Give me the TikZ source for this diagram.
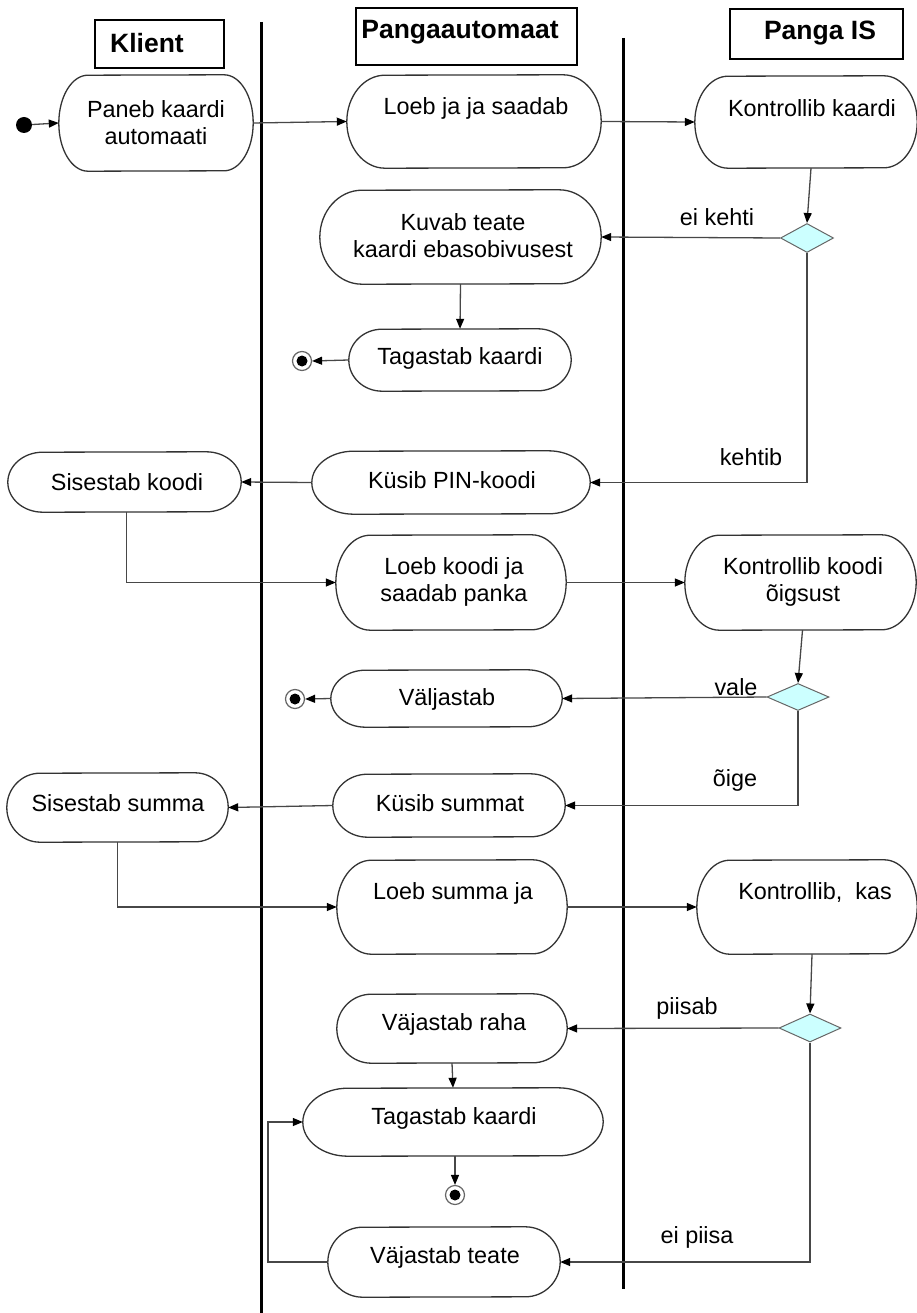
\documentclass[tikz,border=0pt]{standalone}
\usepackage{fontspec}
\setmainfont{Liberation Sans}
\usetikzlibrary{arrows.meta,shapes.geometric,calc}

\definecolor{decfill}{HTML}{CCFFFF}

\tikzset{
  lane/.style={line width=3pt, black},
  hdrbox/.style={rectangle, draw=black, line width=1.3pt, inner sep=0pt},
  hdrtext/.style={font=\fontsize{26.5}{30}\selectfont\bfseries, inner sep=0pt},
  actshape/.style={rectangle, draw=none, inner sep=0pt},
  actborder/.style={draw=black!80, line width=1.3pt},
  acttext/.style={font=\fontsize{23.4}{27}\selectfont, align=center, inner sep=0pt},
  lbl/.style={font=\fontsize{23.4}{27}\selectfont, inner sep=0pt},
  decision/.style={diamond, draw=black!60, fill=decfill, line width=1pt, inner sep=0pt},
  flow/.style={draw=black!72, line width=1.3pt, -{Triangle[length=10pt,width=8pt,color=black]}},
  initial/.style={circle, fill=black, minimum size=16pt, inner sep=0pt},
  final/.style={circle, draw=black!60, line width=1.2pt, minimum size=19pt, inner sep=0pt,
    path picture={\fill[black] (path picture bounding box.center) circle (5.5pt);}},
}

% activity: name, centre x, centre y, width, height, text x, text y, text
\newcommand\actnode[8]{%
  \pgfmathsetmacro\actrx{0.15*#4}%
  \pgfmathsetmacro\actry{#5/2}%
  \node[actshape, minimum width=#4pt, minimum height=#5pt] (#1) at (#2,#3) {};
  \draw[actborder] ($(#1.north east)+(-\actrx pt,0pt)$)
      arc[start angle=90, end angle=-90, x radius=\actrx pt, y radius=\actry pt]
      -- ($(#1.south west)+(\actrx pt,0pt)$)
      arc[start angle=270, end angle=90, x radius=\actrx pt, y radius=\actry pt]
      -- cycle;
  \node[acttext] (#1-txt) at (#6,#7) {#8};
}

\begin{document}
\begin{tikzpicture}[x=1pt, y=-1pt]
\useasboundingbox (0,0) rectangle (917,1313);

% swimlane separators
\coordinate (l1top) at (261,22);
\coordinate (l1bot) at (261,1313);
\coordinate (l2top) at (623,38);
\coordinate (l2bot) at (623,1289);
\draw[lane] (l1top) -- (l1bot);
\draw[lane] (l2top) -- (l2bot);

% lane headers
\node[hdrbox, minimum width=129pt, minimum height=48pt] (hk) at (159.5,44) {};
\node[hdrtext] (hk-txt) at (147,43) {Klient};
\node[hdrbox, minimum width=221pt, minimum height=57pt] (hp) at (466.5,36.5) {};
\node[hdrtext] (hp-txt) at (460,32) {Pangaautomaat};
\node[hdrbox, minimum width=173pt, minimum height=50pt] (hi) at (816.5,34) {};
\node[hdrtext] (hi-txt) at (820,33) {Panga IS};

% start
\node[initial] (start) at (24,125) {};

% activities
\actnode{paneb}{156}{123}{194}{96}{156}{122.5}{Paneb kaardi\\automaati}
\actnode{loeb1}{474}{121.5}{254}{93}{476}{108}{Loeb ja ja saadab}
\actnode{kontr1}{806}{122}{222}{92}{812}{108}{Kontrollib kaardi}
\actnode{kuvab}{460.5}{237}{281}{94}{463}{236}{Kuvab teate\\kaardi ebasobivusest}
\actnode{tag1}{460}{360}{222}{62}{460}{358}{Tagastab kaardi}
\actnode{sis1}{124.5}{482}{233}{60}{127}{482}{Sisestab koodi}
\actnode{kus1}{451}{482.5}{278}{63}{452}{480}{Küsib PIN-koodi}
\actnode{loeb2}{451}{582.5}{230}{95}{454}{581.5}{Loeb koodi ja\\saadab panka}
\actnode{kontr2}{800.5}{582.5}{231}{95}{803}{581.5}{Kontrollib koodi\\õigsust}
\actnode{valj}{446.5}{698.5}{231}{57}{447}{699}{Väljastab}
\actnode{kus2}{449}{805.5}{232}{63}{450}{803}{Küsib summat}
\actnode{sis2}{117.5}{807.5}{221}{69}{118}{803}{Sisestab summa}
\actnode{loeb3}{452}{907}{230}{94}{453}{893}{Loeb summa ja}
\actnode{kontr3}{807}{907}{220}{94}{815}{893}{Kontrollib,\ \ kas}
\actnode{vraha}{452}{1028.5}{230}{69}{454}{1024}{Väjastab raha}
\actnode{tag2}{453}{1122}{300}{68}{454}{1118}{Tagastab kaardi}
\actnode{vteate}{444}{1262}{232}{70}{445}{1257}{Väjastab teate}

% decisions
\node[decision, minimum width=53pt, minimum height=29pt] (d1) at (807,238) {};
\node[decision, minimum width=62pt, minimum height=27pt] (d2) at (798,697) {};
\node[decision, minimum width=62pt, minimum height=28pt] (d3) at (810,1028) {};

% final states
\node[final] (end1) at (302,361) {};
\node[final] (end2) at (295,699) {};
\node[final] (end3) at (455,1195) {};

% guard labels
\node[lbl] (g-eikehti) at (717,217) {ei kehti};
\node[lbl] (g-kehtib) at (751,457) {kehtib};
\node[lbl] (g-vale) at (736,687) {vale};
\node[lbl] (g-oige) at (735,780) {õige};
\node[lbl] (g-piisab) at (687,1008) {piisab};
\node[lbl] (g-eipiisa) at (697,1237) {ei piisa};

% flows
\draw[flow] (start) -- (paneb.west);
\draw[flow] (paneb.east) -- (loeb1.west);
\draw[flow] (loeb1.east) -- (kontr1.west);
\draw[flow] ([xshift=5pt]kontr1.south) -- (d1.north);
\draw[flow] (d1.west) -- (kuvab.east);
\draw[flow] (kuvab.south) -- (tag1.north);
\draw[flow] (tag1.west) -- (end1.east);
\draw[flow] (d1.south) |- (kus1.east);
\draw[flow] (kus1.west) -- (sis1.east);
\draw[flow] ([xshift=2pt]sis1.south) |- (loeb2.west);
\draw[flow] (loeb2.east) -- (kontr2.west);
\draw[flow] ([xshift=2pt]kontr2.south) -- (d2.north);
\draw[flow] (d2.west) -- (valj.east);
\draw[flow] (valj.west) -- (end2.east);
\draw[flow] (d2.south) |- (kus2.east);
\draw[flow] (kus2.west) -- (sis2.east);
\draw[flow] (sis2.south) |- (loeb3.west);
\draw[flow] (loeb3.east) -- (kontr3.west);
\draw[flow] ([xshift=5pt]kontr3.south) -- (d3.north);
\draw[flow] (d3.west) -- (vraha.east);
\draw[flow] (vraha.south) -- (tag2.north);
\draw[flow] ([xshift=2pt]tag2.south) -- (end3.north);
\draw[flow] (d3.south) |- (vteate.east);
\coordinate (loopx) at (268,1262);
\draw[flow] (vteate.west) -- (loopx) |- (tag2.west);

\end{tikzpicture}
\end{document}
